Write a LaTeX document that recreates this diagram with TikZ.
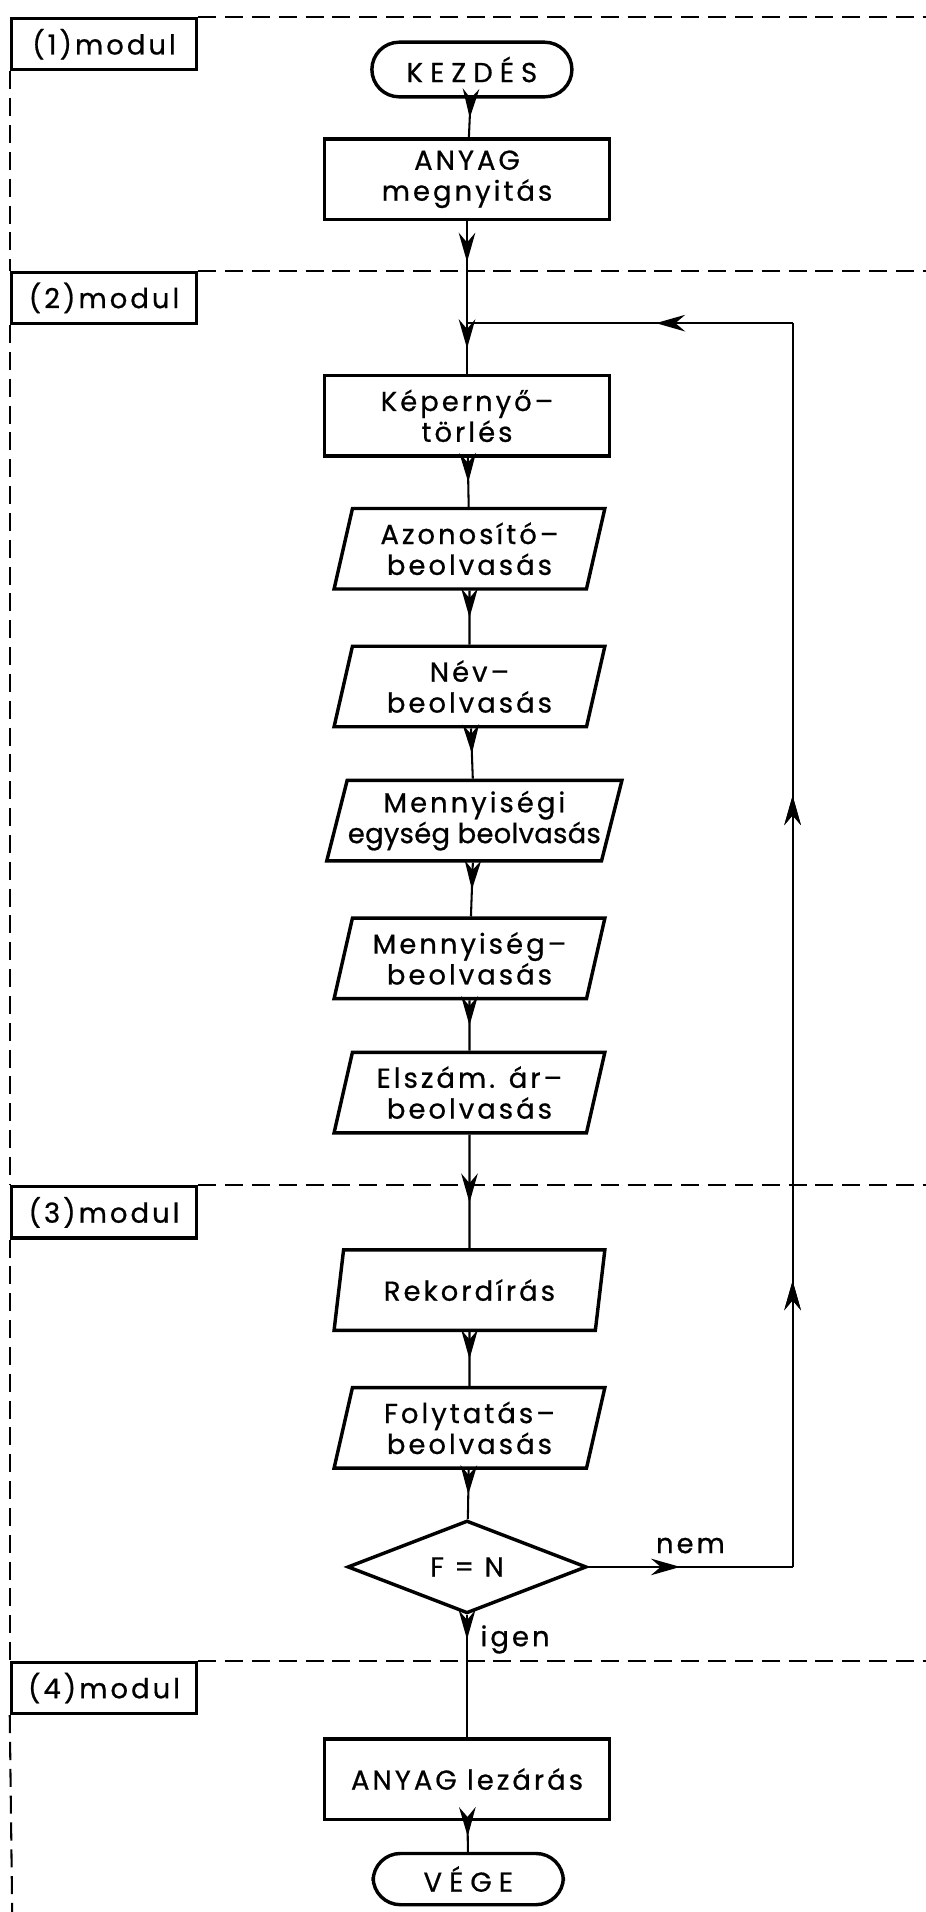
\documentclass[tikz,border=0pt]{standalone}
\usepackage{fontspec}
\setmainfont[LetterSpace=11, FakeBold=0.7]{Poppins}
\usetikzlibrary{shapes.geometric,arrows.meta,decorations.markings}

\tikzset{
  txt/.style={font=\fontsize{16}{18}\selectfont},
  term/.style={draw, line width=2pt, rectangle, rounded corners=0.56cm,
    minimum width=4.1cm, minimum height=1.12cm,
    font=\fontsize{16}{18}\selectfont\addfontfeature{LetterSpace=26}},
  proc/.style={draw, line width=2pt, rectangle, minimum width=5.85cm,
    minimum height=1.65cm, align=center, txt},
  iobox/.style={draw, line width=2pt, trapezium, trapezium left angle=74,
    trapezium right angle=106, trapezium stretches body, minimum width=5.55cm,
    minimum height=1.65cm, align=center, inner xsep=0pt, txt},
  decide/.style={draw, line width=2pt, diamond, minimum width=4.9cm,
    minimum height=1.75cm, inner sep=0pt, txt},
  modbox/.style={draw, line width=1.8pt, rectangle, anchor=north west,
    minimum width=3.8cm, minimum height=1.05cm, inner sep=1pt, txt},
  sep/.style={line width=1.2pt, dash pattern=on 0.37cm off 0.18cm},
  flow/.style={line width=1.2pt},
  midarr/.style={decoration={markings, mark=at position #1 with
    {\arrow{Stealth[length=0.6cm, width=0.34cm, inset=0.2cm]}}}, postaction={decorate}},
  midarr/.default=0.5
}

\begin{document}
\begin{tikzpicture}[x=0.025cm, y=-0.025cm]
 \useasboundingbox (0,0) rectangle (759,1568);

 \node[modbox] (m1) at (8,14) {(1)modul};
 \node[modbox] (m2) at (8,222) {(2)modul};
 \node[modbox] (m3) at (8,972) {(3)modul};
 \node[modbox] (m4) at (8,1362) {(4)modul};

 \coordinate (e1) at (759,14);
 \coordinate (e2) at (759,222);
 \coordinate (e3) at (759,972);
 \coordinate (e4) at (759,1362);
 \coordinate (bot) at (10,1568);

 \draw[sep] (m1.north east) -- (e1);
 \draw[sep] (m2.north east) -- (e2);
 \draw[sep] (m3.north east) -- (e3);
 \draw[sep] (m4.north east) -- (e4);
 \draw[sep] (m1.south west) -- (m2.north west);
 \draw[sep] (m2.south west) -- (m3.north west);
 \draw[sep] (m3.south west) -- (m4.north west);
 \draw[sep] (m4.south west) -- (bot);

 \node[term] (kezd) at (387,57) {KEZDÉS};
 \node[proc] (nyit) at (383,147) {ANYAG\\megnyitás};
 \coordinate (jn) at (383,265);
 \node[proc] (torl) at (383,341) {Képernyő–\\törlés};
 \node[iobox] (azon) at (385,450) {Azonosító–\\beolvasás};
 \node[iobox] (nev) at (385,563) {Név–\\beolvasás};
 \node[iobox, minimum width=6.05cm] (megys) at (389,673) {Mennyiségi\\\makebox[4cm]{\addfontfeature{LetterSpace=1}egység beolvasás}};
 \node[iobox] (menny) at (385,786) {Mennyiség–\\beolvasás};
 \node[iobox] (ar) at (385,896) {Elszám. ár–\\beolvasás};
 \node[iobox] (rek) at (385,1058) {Rekordírás};
 \node[iobox] (foly) at (385,1171) {Folytatás–\\beolvasás};
 \node[decide] (fn) at (383,1285) {F = N};
 \node[proc] (zar) at (383,1459) {ANYAG lezárás};
 \node[term, minimum width=3.9cm, minimum height=1.05cm] (vege) at (384,1541) {VÉGE};

 \coordinate (c1) at (650,1285);
 \coordinate (c2) at (650,265);

 \draw[flow, midarr] (kezd) -- (nyit);
 \draw[flow, midarr=0.4] (nyit) -- (jn);
 \draw[flow, midarr] (jn) -- (torl);
 \draw[flow, midarr] (torl) -- (azon);
 \draw[flow, midarr] (azon) -- (nev);
 \draw[flow, midarr] (nev) -- (megys);
 \draw[flow, midarr] (megys) -- (menny);
 \draw[flow, midarr] (menny) -- (ar);
 \draw[flow, midarr=0.6] (ar) -- (rek);
 \draw[flow, midarr] (rek) -- (foly);
 \draw[flow, midarr] (foly) -- (fn);
 \draw[flow, midarr=0.2] (fn) -- node[pos=0.2, right=4pt, txt] {igen} (zar);
 \draw[flow, midarr] (zar) -- (vege);

 \draw[flow, midarr=0.45] (fn.east) -- node[pos=0.5, above=4pt, txt] {nem} (c1);
 \draw[flow, midarr=0.23, midarr=0.62] (c1) -- (c2);
 \draw[flow, midarr=0.42] (c2) -- (jn);
\end{tikzpicture}
\end{document}
